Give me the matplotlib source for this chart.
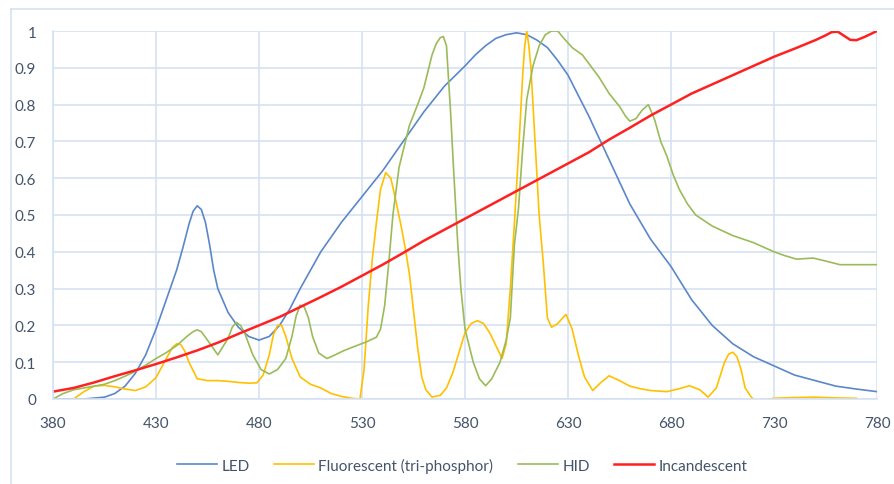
import numpy as np
import matplotlib
matplotlib.use('Agg')
import matplotlib.pyplot as plt
from matplotlib.lines import Line2D

plt.rcParams['font.family'] = ['Lato', 'DejaVu Sans']

# LED
led_nm = [380, 395, 405, 410, 415, 420, 425, 430, 435, 440, 443, 446, 448, 450, 452, 454, 456, 458,
          460, 465, 470, 475, 480, 485, 490, 495, 500, 510, 520, 530, 540, 550, 560, 570, 580, 585,
          590, 595, 600, 605, 610, 615, 620, 625, 630, 640, 650, 660, 670, 680, 690, 700, 710, 720,
          730, 740, 750, 760, 770, 780]
led_val = [0, 0, 0.005, 0.015, 0.035, 0.07, 0.12, 0.19, 0.27, 0.35, 0.41, 0.475, 0.51, 0.525,
           0.515, 0.48, 0.42, 0.35, 0.3, 0.235, 0.195, 0.17, 0.16, 0.17, 0.2, 0.245, 0.3, 0.4, 0.48,
           0.55, 0.62, 0.7, 0.78, 0.85, 0.905, 0.935, 0.96, 0.98, 0.99, 0.995, 0.99, 0.975, 0.955,
           0.92, 0.88, 0.77, 0.65, 0.53, 0.435, 0.36, 0.27, 0.2, 0.15, 0.115, 0.09, 0.065, 0.05,
           0.035, 0.027, 0.02]

# Fluorescent (tri-phosphor)
fl_nm = [390, 395, 400, 405, 410, 415, 420, 425, 430, 435, 438, 440, 442, 444, 446, 450, 455, 460,
         465, 470, 475, 479, 482, 485, 487, 489, 491, 493, 496, 500, 505, 510, 515, 520, 525, 529,
         531, 533, 535, 537, 539, 541.5, 544, 546, 549, 551, 553, 555, 557, 559, 561, 564, 568,
         571, 574, 577, 580, 583, 586, 589, 592, 595, 598, 600, 602, 604, 606, 608, 609, 610, 611,
         612, 614, 616, 618, 620, 622, 625, 629, 632, 635, 638, 642, 646, 650, 655, 660, 665, 670,
         678, 684, 689, 694, 698, 702, 706, 708, 710, 712, 714, 716, 719, 722, 726, 730, 740, 750,
         760, 770]
fl_val = [0, 0.02, 0.035, 0.037, 0.033, 0.027, 0.023, 0.033, 0.058, 0.11, 0.14, 0.15, 0.148, 0.13,
          0.1, 0.055, 0.05, 0.05, 0.048, 0.045, 0.043, 0.044, 0.065, 0.12, 0.175, 0.2, 0.2, 0.17,
          0.11, 0.06, 0.04, 0.03, 0.015, 0.007, 0.002, 0, 0.08, 0.25, 0.38, 0.48, 0.57, 0.615, 0.6,
          0.55, 0.47, 0.41, 0.34, 0.24, 0.14, 0.06, 0.025, 0.005, 0.01, 0.03, 0.07, 0.125, 0.18,
          0.205, 0.213, 0.205, 0.18, 0.145, 0.11, 0.15, 0.3, 0.48, 0.67, 0.88, 0.96, 1.0, 0.96, 0.9,
          0.7, 0.5, 0.37, 0.22, 0.195, 0.205, 0.23, 0.19, 0.12, 0.06, 0.023, 0.045, 0.063, 0.05,
          0.035, 0.028, 0.023, 0.02, 0.028, 0.036, 0.025, 0.005, 0.03, 0.1, 0.122, 0.127, 0.115,
          0.08, 0.03, 0.005, -0.01, -0.002, 0.002, 0.004, 0.005, 0.003, 0.002]

# HID
hid_nm = [380, 385, 390, 395, 400, 405, 410, 415, 420, 425, 430, 435, 440, 445, 448, 450, 452, 455,
          460, 465, 467, 469, 471, 473, 477, 481, 485, 489, 493, 496, 498, 500, 502, 504, 506, 509,
          513, 517, 521, 526, 532, 537, 539, 541, 543, 545, 548, 553, 557, 560, 564, 566, 568, 569.5,
          571, 573, 574.5, 576.5, 578, 580, 584, 587, 590, 593, 597, 600, 602, 604, 606, 608, 610,
          613, 616, 619, 622, 625, 628, 632, 637, 641, 645, 650, 655, 658, 660, 663, 666, 669, 672,
          675, 678, 681, 684, 688, 692, 700, 710, 720, 730, 735, 741, 749, 755, 762, 770, 780]
hid_val = [0, 0.015, 0.025, 0.03, 0.035, 0.04, 0.05, 0.062, 0.075, 0.092, 0.11, 0.126, 0.145, 0.17,
           0.183, 0.188, 0.183, 0.16, 0.12, 0.165, 0.195, 0.208, 0.2, 0.18, 0.12, 0.08, 0.068, 0.08,
           0.11, 0.17, 0.225, 0.255, 0.25, 0.22, 0.17, 0.125, 0.11, 0.12, 0.131, 0.142, 0.155,
           0.168, 0.19, 0.254, 0.37, 0.5, 0.63, 0.743, 0.8, 0.845, 0.935, 0.965, 0.982, 0.985, 0.96,
           0.78, 0.62, 0.42, 0.3, 0.19, 0.1, 0.055, 0.036, 0.055, 0.1, 0.16, 0.22, 0.42, 0.52, 0.68,
           0.815, 0.905, 0.96, 0.99, 1.0, 1.0, 0.98, 0.955, 0.935, 0.905, 0.875, 0.83, 0.795,
           0.768, 0.755, 0.762, 0.785, 0.8, 0.76, 0.7, 0.66, 0.61, 0.57, 0.53, 0.5, 0.47, 0.444,
           0.425, 0.4, 0.39, 0.38, 0.383, 0.375, 0.365, 0.365, 0.365]

# Incandescent
inc_nm = [380, 390, 400, 410, 420, 430, 440, 450, 460, 470, 480, 490, 500, 510, 520, 530, 540, 550,
          560, 570, 580, 590, 600, 610, 620, 630, 640, 650, 660, 670, 680, 690, 700, 710, 720, 730,
          740, 750, 755, 758, 761, 764, 767, 770, 774, 777, 780]
inc_val = [0.02, 0.03, 0.045, 0.062, 0.078, 0.095, 0.113, 0.132, 0.153, 0.177, 0.2, 0.223, 0.25,
           0.277, 0.305, 0.335, 0.365, 0.397, 0.43, 0.46, 0.49, 0.52, 0.55, 0.58, 0.61, 0.64, 0.67,
           0.705, 0.737, 0.77, 0.8, 0.83, 0.855, 0.88, 0.905, 0.93, 0.952, 0.975, 0.988, 0.997,
           0.998, 0.987, 0.976, 0.975, 0.984, 0.992, 1.0]

grid_c = '#d5e1f3'
text_c = '#44546a'

fig = plt.figure(figsize=(8.94, 4.85), dpi=100)
ax = fig.add_axes([53/894, 1 - 400/485, 824/894, 368/485])

ax.plot(led_nm, led_val, color='#5b87c9', lw=1.2, label='LED')
ax.plot(fl_nm, fl_val, color='#ffc000', lw=1.2, label='Fluorescent (tri-phosphor)')
ax.plot(hid_nm, hid_val, color='#9bbb59', lw=1.2, label='HID')
ax.plot(inc_nm, inc_val, color='#ff2020', lw=1.8, label='Incandescent')

ax.set_xlim(380, 780)
ax.set_ylim(0, 1)
ax.set_xticks(np.arange(380, 781, 50))
ax.set_yticks(np.arange(0, 1.01, 0.1))
ax.set_yticklabels(['0'] + ['%.1f' % v for v in np.arange(0.1, 0.95, 0.1)] + ['1'])
ax.grid(True, color=grid_c, lw=1.2)
ax.set_axisbelow(True)
ax.tick_params(length=0, colors=text_c, labelsize=11)
ax.tick_params(axis='x', pad=12)
ax.tick_params(axis='y', pad=12)
for s in ['top', 'right']:
    ax.spines[s].set_visible(False)
for s in ['left', 'bottom']:
    ax.spines[s].set_color(grid_c)
    ax.spines[s].set_linewidth(1.2)

leg = fig.legend(loc='center', bbox_to_anchor=(0.517, 1 - 466/485), ncol=4, frameon=False,
                 fontsize=11, handlelength=2.6, columnspacing=1.6, handletextpad=0.3)
for t in leg.get_texts():
    t.set_color(text_c)

# outer chart border
fig.add_artist(Line2D([11/894, 11/894], [0, 1 - 10/485], color=grid_c, lw=1.2))
fig.add_artist(Line2D([11/894, 1], [1 - 10/485, 1 - 10/485], color=grid_c, lw=1.2))

fig.savefig('out.png', dpi=100)
